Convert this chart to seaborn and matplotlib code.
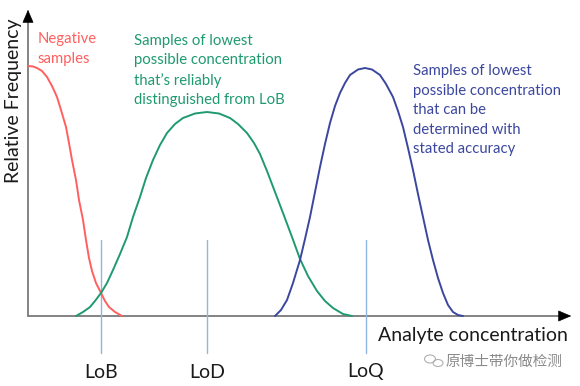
import matplotlib
matplotlib.use("Agg")
import matplotlib.pyplot as plt
from matplotlib.patches import Ellipse
import seaborn as sns
import pandas as pd

sns.set_theme(style="white")
plt.rcParams['font.family'] = ['Lato', 'Noto Sans CJK SC', 'DejaVu Sans']

# ---- data (x = analyte concentration, y = relative frequency; arbitrary units) ----
neg_x = [0, 5, 9, 14, 19, 24, 29, 33, 38, 41, 44, 48, 51, 55, 58, 61, 64, 68, 73, 77, 81, 87, 94]
neg_y = [250, 249.5, 248, 245, 239, 230, 219, 206, 189, 173, 156, 136, 116, 96, 76, 58, 45, 33, 23, 15, 9, 4, 0]

lod_x = [48, 55, 62, 67, 73, 79, 85, 92, 99, 105, 112, 118, 125, 132, 139, 147, 155, 167, 179, 191,
         202, 210, 219, 226, 232, 239, 247, 255, 264, 272, 280, 289, 297, 305, 315, 324]
lod_y = [0, 4, 9, 15, 23, 33, 46, 62, 79, 99, 119, 138, 156, 171, 183, 192, 198, 202.5, 204, 202.5,
         198, 192, 183, 173, 162, 145, 124, 103, 79, 57, 40, 25, 15, 8, 2, 0]

loq_x = [247, 253, 259, 265, 272, 277, 282, 287, 292, 297, 302, 307, 312, 317, 322, 330, 337, 344,
         352, 358, 365, 370, 375, 380, 385, 390, 395, 400, 405, 410, 415, 420, 425, 430, 435]
loq_y = [0, 6, 16, 33, 56, 77, 99, 124, 149, 172, 193, 210, 223, 233, 241, 246.5, 248, 246.5,
         241, 232, 219, 205, 189, 168, 146, 122, 99, 76, 56, 38, 23, 11, 4, 1, 0]

limit_names = ["LoB", "LoD", "LoQ"]
limit_x = [73, 179, 338]

neg_label = "Negative\nsamples"
lod_label = "Samples of lowest\npossible concentration\nthat\u2019s reliably\ndistinguished from LoB"
loq_label = "Samples of lowest\npossible concentration\nthat can be\ndetermined with\nstated accuracy"
x_title = "Analyte concentration"
y_title = "Relative Frequency"
watermark = "原博士带你做检测"

# ---- styles ----
RED = "#ff5f5f"
GREEN = "#1f9a6f"
BLUE = "#3b479e"
VLINE = "#8fb6e0"
AXIS = "#7a7a7a"

fig = plt.figure(figsize=(5.8, 3.86), dpi=100)
ax = fig.add_axes([0, 0, 1, 1])
ax.set_xlim(-28, 552)
ax.set_ylim(-70, 316)
ax.set_axis_off()

df = pd.concat([
    pd.DataFrame({"x": neg_x, "y": neg_y, "s": "neg"}),
    pd.DataFrame({"x": lod_x, "y": lod_y, "s": "lod"}),
    pd.DataFrame({"x": loq_x, "y": loq_y, "s": "loq"}),
])
sns.lineplot(data=df, x="x", y="y", hue="s", palette={"neg": RED, "lod": GREEN, "loq": BLUE},
             estimator=None, sort=False, linewidth=1.4, legend=False, ax=ax)

# limit lines
for name, xv in zip(limit_names, limit_x):
    ax.plot([xv, xv], [-37, 76], color=VLINE, lw=1.0, zorder=1)
    ax.text(xv, -56, name, ha="center", va="center", fontsize=14, color="#1a1a1a")

# axes with arrows
ax.plot([0, 540], [0, 0], color=AXIS, lw=1.3, zorder=0)
ax.plot([0, 0], [0, 302], color=AXIS, lw=1.3, zorder=0)
ax.annotate("", xy=(546, 0), xytext=(536, 0),
            arrowprops=dict(arrowstyle="-|>,head_length=0.7,head_width=0.3", color="black", lw=0.5))
ax.annotate("", xy=(0, 309), xytext=(0, 299),
            arrowprops=dict(arrowstyle="-|>,head_length=0.7,head_width=0.3", color="black", lw=0.5))

ax.text(445, -20, x_title, ha="center", va="center", fontsize=14, color="#1a1a1a")
ax.text(-14, 215, y_title, ha="center", va="center", rotation=90, fontsize=14, color="#1a1a1a")

ax.text(10, 284, neg_label, ha="left", va="top", fontsize=10.7, color=RED, linespacing=1.55)
ax.text(106, 282.5, lod_label, ha="left", va="top", fontsize=10.7, color=GREEN, linespacing=1.5)
ax.text(385, 251.5, loq_label, ha="left", va="top", fontsize=10.7, color=BLUE, linespacing=1.5)

# watermark
ax.add_patch(Ellipse((402, -43), 11, 8, fill=False, ec="#b0b0b0", lw=0.8))
ax.add_patch(Ellipse((410, -47), 10, 7, fill=False, ec="#b0b0b0", lw=0.8, fc="white"))
ax.text(534, -46, watermark, ha="right", va="center", fontsize=10.5, color="#8a8a8a",
        family=['Noto Sans CJK SC', 'DejaVu Sans'])

fig.savefig("out.png", dpi=100)
